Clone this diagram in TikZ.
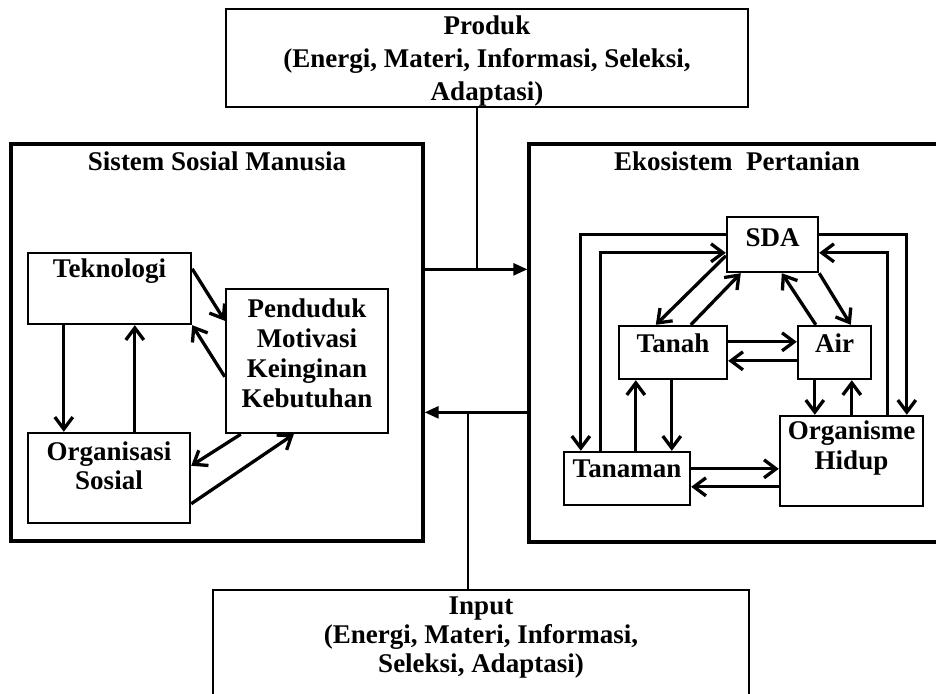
\documentclass[tikz,border=0pt]{standalone}
\usepackage{fontspec}
\setmainfont{Liberation Serif}
\usetikzlibrary{arrows.meta}
\begin{document}
\begin{tikzpicture}[x=1pt,y=-1pt,
  txt/.style={font=\fontsize{27}{30}\selectfont\bfseries, align=center, inner sep=0pt},
  outerbox/.style={draw, line width=3.3pt, inner sep=0pt},
  endbox/.style={draw, line width=2.3pt, inner sep=0pt},
  ibox/.style={draw, line width=2.4pt, inner sep=0pt},
  iarr/.style={line width=3.3pt, -{Straight Barb[length=12pt,width=18pt]}},
  oarr/.style={line width=2.6pt, -{Triangle[length=14pt,width=12pt]}},
  thinline/.style={line width=1.5pt}
]
\useasboundingbox (0,0) rectangle (936,693);
\fill[white] (0,0) rectangle (936,693);
\clip (0,0) rectangle (936,693);

% outer boxes
\node[endbox, minimum width=522pt, minimum height=98pt] (prod) at (487,58) {};
\node[txt, font=\fontsize{27}{33}\selectfont\bfseries] (prodt) at ([yshift=-3pt]prod.center) {Produk\\(Energi, Materi, Informasi, Seleksi,\\Adaptasi)};
\node[outerbox, minimum width=412pt, minimum height=397pt] (sos) at (217,342.5) {};
\node[txt] (sost) at ([yshift=-19pt]sos.north) {Sistem Sosial Manusia};
\node[outerbox, minimum width=416pt, minimum height=398pt] (eko) at (737,343) {};
\node[txt] (ekot) at ([yshift=-19pt]eko.north) {Ekosistem~~Pertanian};
\node[endbox, minimum width=536pt, minimum height=120pt] (inp) at (481,650) {};
\node[txt, font=\fontsize{27}{29}\selectfont\bfseries] (inpt) at ([yshift=-49pt]inp.north) {Input\\(Energi, Materi, Informasi,\\Seleksi, Adaptasi)};

% left inner boxes
\node[ibox, minimum width=163pt, minimum height=71pt] (tek) at (109.5,288.5) {};
\node[txt] (tekt) at ([yshift=-19pt]tek.north) {Teknologi};
\node[ibox, minimum width=162pt, minimum height=144pt] (pen) at (307,361) {};
\node[txt] (pent) at ([yshift=8pt]pen.center) {Penduduk\\Motivasi\\Keinginan\\Kebutuhan};
\node[ibox, minimum width=162pt, minimum height=90pt] (org) at (109,478) {};
\node[txt, font=\fontsize{27}{28.5}\selectfont\bfseries] (orgt) at ([yshift=-34pt]org.north) {Organisasi\\Sosial};

% right inner boxes
\node[ibox, minimum width=91pt, minimum height=55pt] (sda) at (772.5,244.5) {};
\node[txt] (sdat) at ([yshift=7pt]sda.center) {SDA};
\node[ibox, minimum width=108pt, minimum height=53pt] (tnh) at (673,352.5) {};
\node[txt] (tnht) at ([yshift=9.5pt]tnh.center) {Tanah};
\node[ibox, minimum width=73pt, minimum height=53pt] (air) at (834.5,352.5) {};
\node[txt] (airt) at ([yshift=9.5pt]air.center) {Air};
\node[ibox, minimum width=143pt, minimum height=90pt] (ohd) at (851.5,461) {};
\node[txt] (ohdt) at ([yshift=13pt]ohd.center) {Organisme\\Hidup};
\node[ibox, minimum width=126pt, minimum height=53pt] (tnm) at (627,478.5) {};
\node[txt] (tnmt) at ([yshift=9.5pt]tnm.center) {Tanaman};

% outer connectors
\coordinate (jt) at (477,271);
\coordinate (jb) at (468,414);
\draw[oarr] ([yshift=-127pt]sos.north east) -- ([yshift=-127pt]eko.north west);
\draw[oarr] ([yshift=-270pt]eko.north west) -- ([yshift=-270pt]sos.north east);
\draw[thinline] (prod.south -| jt) -- (jt);
\draw[thinline] (inp.north -| jb) -- (jb);

% left arrows
\draw[iarr] ([xshift=37pt]tek.south west) -- ([xshift=37pt]org.north west);
\draw[iarr] ([xshift=108pt]org.north west) -- ([xshift=108pt]tek.south west);
\draw[iarr] ([yshift=-17pt]tek.north east) -- ([yshift=-33pt]pen.north west);
\draw[iarr] ([yshift=-89pt]pen.north west) -- (tek.south east);
\draw[iarr] ([xshift=16pt]pen.south west) -- ([yshift=-34pt]org.north east);
\draw[iarr] ([yshift=-72pt]org.north east) -- ([xshift=69pt]pen.south west);

% right arrows
\draw[iarr] ([yshift=-19pt]sda.north west) -| ([xshift=18pt]tnm.north west);
\draw[iarr] ([xshift=38pt]tnm.north west) |- ([yshift=-37pt]sda.north west);
\draw[iarr] ([yshift=-40pt]sda.north west) -- ([xshift=38pt]tnh.north west);
\draw[iarr] ([xshift=73pt]tnh.north west) -- ([xshift=15pt]sda.south west);
\draw[iarr] ([xshift=19pt]air.north west) -- ([xshift=56pt]sda.south west);
\draw[iarr] (sda.south east) -- ([xshift=54pt]air.north west);
\draw[iarr] ([yshift=-19pt]sda.north east) -| ([xshift=128pt]ohd.north west);
\draw[iarr] ([xshift=109pt]ohd.north west) |- ([yshift=-37pt]sda.north east);
\draw[iarr] ([yshift=-17pt]tnh.north east) -- ([yshift=-17pt]air.north west);
\draw[iarr] ([yshift=-36pt]air.north west) -- ([yshift=-36pt]tnh.north east);
\draw[iarr] ([xshift=18pt]air.south west) -- ([xshift=36pt]ohd.north west);
\draw[iarr] ([xshift=73pt]ohd.north west) -- ([xshift=55pt]air.south west);
\draw[iarr] ([xshift=54pt]tnh.south west) -- ([xshift=109pt]tnm.north west);
\draw[iarr] ([xshift=73pt]tnm.north west) -- ([xshift=18pt]tnh.south west);
\draw[iarr] ([yshift=-18pt]tnm.north east) -- ([yshift=-54pt]ohd.north west);
\draw[iarr] ([yshift=-72pt]ohd.north west) -- ([yshift=-36pt]tnm.north east);
\end{tikzpicture}
\end{document}
